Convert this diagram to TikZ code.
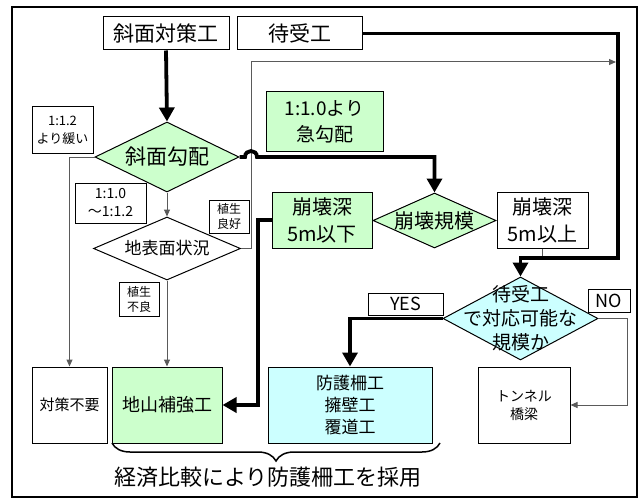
\documentclass[tikz,border=0pt]{standalone}
\usepackage{fontspec}
\newfontfamily\jp{Noto Sans CJK JP}
\usetikzlibrary{shapes.geometric,arrows.meta,decorations.pathreplacing}
\newcommand\fsz[2]{\fontsize{#1}{#2}\selectfont}
\definecolor{lgreen}{HTML}{CCFFCC}
\definecolor{lcyan}{HTML}{CCFFFF}
\definecolor{thingray}{HTML}{5A5A5A}
\tikzset{
  box/.style={draw=black, line width=1pt, inner sep=0pt, align=center, font=\jp},
  dia/.style={draw=black, line width=1pt, diamond, inner sep=0pt},
  thickarrow/.style={line width=3.8pt, -{Triangle[length=14pt,width=15pt]}},
  thickline/.style={line width=3.8pt},
  thinarrow/.style={draw=thingray, line width=1pt, -{Triangle[length=7pt,width=6pt]}},
  thinline/.style={draw=thingray, line width=1pt},
}
\begin{document}
\begin{tikzpicture}[x=1pt,y=-1pt]
\useasboundingbox (0,0) rectangle (642,500);
\draw[line width=1.5pt] (12,7) rectangle (637,497);

% nodes
\node[box, minimum width=126pt, minimum height=33pt, font=\jp\fsz{21}{26}] (taisaku) at (166,33.5) {斜面対策工};
\node[box, minimum width=125pt, minimum height=33pt, font=\jp\fsz{21}{26}] (machiuke) at (299.5,33.5) {待受工};

\node[dia, fill=lgreen, minimum width=144pt, minimum height=70pt,
  label={[font=\jp\fsz{21}{26}]center:斜面勾配}] (kobai) at (167,157) {};
\node[box, minimum width=61pt, minimum height=46pt, font=\jp\fsz{13}{18}] (yurui) at (62.5,130) {1:1.2\\より緩い};
\node[box, fill=lgreen, minimum width=117pt, minimum height=59pt, font=\jp\fsz{19}{26}] (kyu) at (324.5,121.5) {1:1.0より\\急勾配};
\node[box, minimum width=71pt, minimum height=40pt, font=\jp\fsz{14}{18}] (mid) at (110.5,203) {1:1.0\\～1:1.2};

\node[dia, fill=white, minimum width=147pt, minimum height=63pt,
  label={[font=\jp\fsz{17}{22}]center:地表面状況}] (chihyo) at (167,248.5) {};
\node[box, minimum width=40pt, minimum height=33pt, font=\jp\fsz{12}{15}] (ryoko) at (229,216.5) {植生\\良好};
\node[box, minimum width=40pt, minimum height=34pt, font=\jp\fsz{12}{15}] (furyo) at (139,299) {植生\\不良};

\node[dia, fill=lgreen, minimum width=123pt, minimum height=55pt,
  label={[font=\jp\fsz{20}{24}]center:崩壊規模}] (hokai) at (434.5,220.5) {};
\node[box, fill=lgreen, minimum width=100pt, minimum height=56pt, font=\jp\fsz{20}{27}] (below) at (322,220) {崩壊深\\5m以下};
\node[box, fill=white, minimum width=91pt, minimum height=56pt, font=\jp\fsz{20}{27}] (above) at (542.5,220) {崩壊深\\5m以上};

\node[dia, fill=lcyan, minimum width=155pt, minimum height=83pt,
  label={[font=\jp\fsz{19}{24}, align=center]center:待受工\\で対応可能な\\規模か}] (mdia) at (520.5,318.5) {};
\node[box, fill=white, minimum width=75pt, minimum height=22pt, font=\jp\fsz{18}{20}] (yes) at (405.5,304) {YES};
\node[box, fill=white, minimum width=42pt, minimum height=23pt, font=\jp\fsz{18}{20}] (no) at (609,300.5) {NO};

\node[box, minimum width=75pt, minimum height=76pt, font=\jp\fsz{15}{19}] (fuyo) at (69.5,405) {対策不要};
\node[box, fill=lgreen, minimum width=110pt, minimum height=76pt, font=\jp\fsz{18}{22}] (hokyo) at (167,405) {地山補強工};
\node[box, fill=lcyan, minimum width=164pt, minimum height=76pt, font=\jp\fsz{17}{22}] (bogo) at (350,405) {防護柵工\\擁壁工\\覆道工};
\node[box, minimum width=92pt, minimum height=76pt, font=\jp\fsz{14}{18}] (tunnel) at (524,405) {トンネル\\橋梁};

\node[font=\jp\fsz{22}{26}, inner sep=0pt] (keizai) at (268,477) {経済比較により防護柵工を採用};

% coordinates
\coordinate (c1) at (618,258);
\coordinate (h1) at (245,157);
\coordinate (h2) at (257,157);
\coordinate (k1) at (434.5,157);
\coordinate (t1) at (251,62);
\coordinate (t2) at (616,62);
\coordinate (b1) at (258,220);
\coordinate (n1) at (627,318.5);
\coordinate (br1) at (112,443);
\coordinate (br2) at (440,443);

% thin connectors
\draw[thinarrow] (kobai.south) -- (chihyo.north);
\draw[thinarrow] (kobai.west) -| (fuyo.north);
\draw[thinarrow] (chihyo.south) -- (hokyo.north);
\draw[thinarrow] (chihyo.east) -| (t1) -- (t2);
\draw[thinline] (above.south) -- (above.south |- c1);
\draw[thinarrow] (mdia.east) -- (n1) |- (tunnel.east);

% thick connectors
\draw[thickarrow] (taisaku.south) -- (kobai.north);
\draw[thickarrow, line join=miter] (machiuke.east) -| (c1) -| (mdia.north);
\draw[thickarrow, line join=miter] (kobai.east) -- (h1) .. controls (245,149) and (257,149) .. (h2) -- (k1) -- (hokai.north);
\draw[thickarrow, line join=miter] (below.west) -- (b1) |- (hokyo.east);
\draw[thickarrow, line join=miter] (mdia.west) -| (bogo.north);

% brace
\draw[line width=1.5pt, decorate, decoration={brace, mirror, amplitude=18pt}] (br1) -- (br2);
\end{tikzpicture}
\end{document}
